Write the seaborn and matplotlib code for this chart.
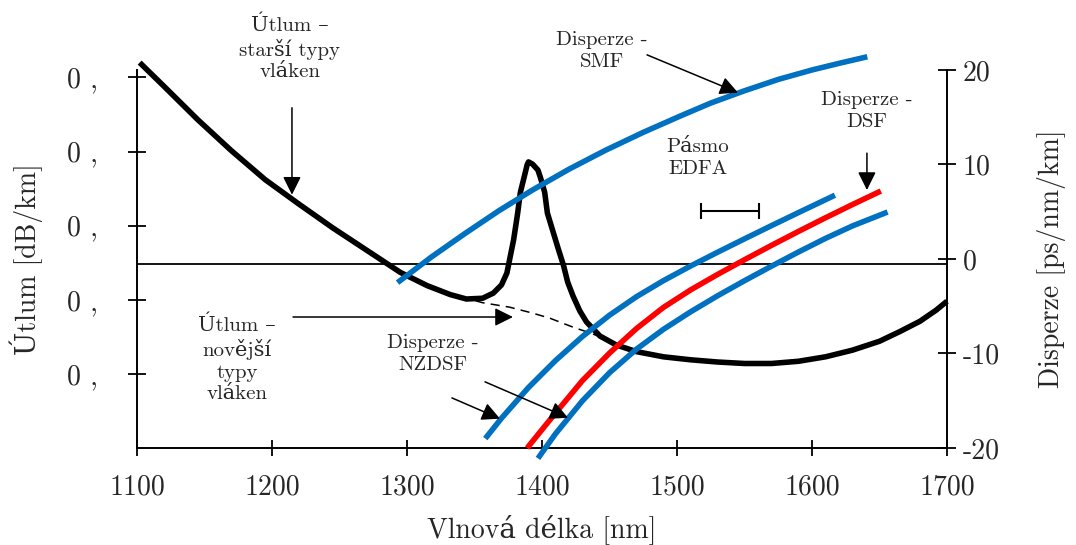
import matplotlib
matplotlib.use("Agg")
import matplotlib.pyplot as plt
import seaborn as sns

# Wavelength axis
x_ticks = [1100, 1200, 1300, 1400, 1500, 1600, 1700]
x_tick_labels = ["1100", "1200", "1300", "1400", "1500", "1600", "1700"]

# Left axis: attenuation [dB/km]
att_ticks = [0.1, 0.2, 0.3, 0.4, 0.5]
att_tick_labels = ["0 ,", "0 ,", "0 ,", "0 ,", "0 ,"]

# Right axis: dispersion [ps/nm/km]
disp_ticks = [-20, -10, 0, 10, 20]
disp_tick_labels = ["-20", "-10", "0", "10", "20"]

# Attenuation of older fibre types (with the OH absorption peak)
att_old_nm = [1102, 1120, 1145, 1170, 1195, 1220, 1245, 1270, 1295, 1315, 1332, 1344,
              1356, 1364, 1370, 1374, 1376, 1379, 1382, 1384, 1387, 1389, 1390, 1393,
              1397, 1399, 1402, 1404, 1408, 1412, 1416, 1419, 1423, 1428, 1433, 1443,
              1455, 1470, 1490, 1510, 1530, 1550, 1570, 1590, 1610, 1630, 1650, 1665,
              1680, 1692, 1700]
att_old_db = [0.520, 0.488, 0.443, 0.401, 0.362, 0.329, 0.297, 0.267, 0.237, 0.219, 0.207, 0.201,
              0.202, 0.209, 0.220, 0.236, 0.254, 0.281, 0.317, 0.345, 0.367, 0.382, 0.386, 0.383,
              0.375, 0.364, 0.345, 0.317, 0.293, 0.269, 0.246, 0.224, 0.205, 0.185, 0.170, 0.151,
              0.139, 0.130, 0.123, 0.119, 0.116, 0.114, 0.114, 0.117, 0.123, 0.132, 0.144, 0.157,
              0.171, 0.186, 0.198]

# Attenuation of newer fibre types (no OH peak)
att_new_nm = [1340, 1356, 1376, 1393, 1406, 1423, 1436, 1443]
att_new_db = [0.204, 0.196, 0.190, 0.182, 0.175, 0.163, 0.155, 0.150]

# Dispersion: standard single-mode fibre
smf_nm = [1293, 1318, 1343, 1368, 1393, 1420, 1447, 1475, 1502, 1525, 1550, 1575, 1600, 1620, 1641]
smf_disp = [-2.5, 0.2, 2.7, 5.1, 7.3, 9.5, 11.5, 13.4, 15.1, 16.5, 17.8, 19.0, 20.0, 20.7, 21.4]

# Dispersion: non-zero dispersion-shifted fibre (upper branch)
nzdsf_a_nm = [1358, 1370, 1390, 1410, 1430, 1450, 1470, 1490, 1510, 1530, 1550, 1570, 1590, 1617]
nzdsf_a_disp = [-19.0, -16.85, -13.6, -10.75, -8.2, -5.95, -3.99, -2.29, -0.75, 0.71, 2.13,
                3.53, 4.91, 6.75]

# Dispersion: dispersion-shifted fibre
dsf_nm = [1389, 1410, 1430, 1450, 1470, 1490, 1510, 1530, 1550, 1570, 1590, 1610, 1630, 1651]
dsf_disp = [-20.0, -16.3, -12.86, -9.96, -7.36, -5.12, -3.28, -1.64, -0.08, 1.44, 2.92, 4.36,
            5.76, 7.19]

# Dispersion: non-zero dispersion-shifted fibre (lower branch)
nzdsf_b_nm = [1397, 1410, 1430, 1450, 1470, 1490, 1510, 1530, 1550, 1570, 1590, 1610, 1630, 1656]
nzdsf_b_disp = [-21.1, -18.5, -15.0, -12.04, -9.54, -7.44, -5.6, -3.9, -2.3, -0.76, 0.74, 2.18,
                3.5, 4.97]

# Zero-dispersion reference line and EDFA band
zero_line = -0.5
edfa_band = [1518, 1561]
edfa_level = 5.1

BLUE = "#0070C0"
RED = "#FF0000"

sns.set_theme(style="white")
plt.rcParams["font.family"] = ["cmr10", "DejaVu Serif"]
plt.rcParams["axes.unicode_minus"] = False
plt.rcParams["axes.formatter.use_mathtext"] = True

fig = plt.figure(figsize=(10.76, 5.45), dpi=100)
ax = fig.add_axes([0.1273, 0.1780, 0.7528, 0.6936])
ax2 = ax.twinx()

# attenuation curves (left axis)
sns.lineplot(x=att_old_nm, y=att_old_db, ax=ax, sort=False, estimator=None,
             color="black", lw=4.0)
ax.lines[-1].set_clip_on(False)
ax.lines[-1].set_solid_capstyle("butt")
ax.lines[-1].set_solid_joinstyle("round")
sns.lineplot(x=att_new_nm, y=att_new_db, ax=ax, sort=False, estimator=None,
             color="black", lw=1.1, dashes=False)
ax.lines[-1].set_dashes([6, 4])

# dispersion curves (right axis)
ax2.axhline(zero_line, color="black", lw=1.3)
for xs, ys, col in [(smf_nm, smf_disp, BLUE), (nzdsf_a_nm, nzdsf_a_disp, BLUE),
                    (dsf_nm, dsf_disp, RED), (nzdsf_b_nm, nzdsf_b_disp, BLUE)]:
    sns.lineplot(x=xs, y=ys, ax=ax2, sort=False, estimator=None, color=col, lw=4.0)
    ax2.lines[-1].set_clip_on(False)
    ax2.lines[-1].set_solid_capstyle("butt")
    ax2.lines[-1].set_solid_joinstyle("round")

# EDFA band marker
mid = (edfa_band[0] + edfa_band[1]) / 2
half = (edfa_band[1] - edfa_band[0]) / 2
ax2.errorbar(mid, edfa_level, xerr=half, fmt="none", ecolor="black",
             elinewidth=1.5, capsize=6, capthick=1.5)

# axes limits and ticks
ax.set_xlim(1100, 1700)
ax.set_ylim(0, 0.51)
ax2.set_ylim(-20, 20)
ax.set_xticks(x_ticks)
ax.set_xticklabels(x_tick_labels)
ax.set_yticks(att_ticks)
ax.set_yticklabels(att_tick_labels)
ax2.set_yticks(disp_ticks)
ax2.set_yticklabels(disp_tick_labels)

for a in (ax, ax2):
    a.grid(False)
    a.spines["top"].set_visible(False)
    for s in ("left", "right", "bottom"):
        a.spines[s].set_linewidth(1.4)
        a.spines[s].set_color("black")
ax.spines["right"].set_visible(False)
ax2.spines["left"].set_visible(False)
ax2.spines["bottom"].set_visible(False)

ax.tick_params(axis="x", direction="inout", length=12, width=1.3, color="black",
               labelsize=20, pad=13, bottom=True)
ax.tick_params(axis="y", direction="inout", length=13, width=1.3, color="black",
               labelsize=20, pad=22, left=True)
ax2.tick_params(axis="y", direction="inout", length=13, width=1.3, color="black",
                labelsize=20, pad=5, right=True)

ax.set_xlabel("Vlnová délka [nm]", fontsize=20)
ax.xaxis.set_label_coords(0.5, -0.175)
ax.set_ylabel("Útlum [dB/km]", fontsize=20)
ax.yaxis.set_label_coords(-0.116, 0.5)
ax2.set_ylabel("Disperze [ps/nm/km]", fontsize=20)
ax2.yaxis.set_label_coords(1.111, 0.5)

arrow = dict(arrowstyle="-|>,head_length=0.5,head_width=0.25", color="black",
             lw=1.1, mutation_scale=22, shrinkA=0, shrinkB=0)
tkw = dict(fontsize=15, ha="center", va="center", linespacing=1.25, annotation_clip=False)

ax2.annotate("Útlum –\nstarší typy\nvláken", xy=(1213.3, 22.3), **tkw)
ax2.annotate("", xy=(1214.8, 6.8), xytext=(1214.8, 16.0), arrowprops=arrow,
             annotation_clip=False)

ax2.annotate("Disperze -\nSMF", xy=(1444.4, 22.0), **tkw)
ax2.annotate("", xy=(1545.2, 17.6), xytext=(1477.8, 21.6), arrowprops=arrow,
             annotation_clip=False)

ax2.annotate("Pásmo\nEDFA", xy=(1515.6, 10.7), **tkw)

ax2.annotate("Disperze -\nDSF", xy=(1640.7, 15.66), **tkw)
ax2.annotate("", xy=(1640.7, 7.3), xytext=(1640.7, 11.2), arrowprops=arrow,
             annotation_clip=False)

ax2.annotate("Útlum –\nnovější\ntypy\nvláken", xy=(1174.1, -10.63), **tkw)
ax2.annotate("", xy=(1378.5, -6.14), xytext=(1215.6, -6.14), arrowprops=arrow,
             annotation_clip=False)

ax2.annotate("Disperze -\nNZDSF", xy=(1319.3, -10.05), **tkw)
ax2.annotate("", xy=(1368.9, -16.9), xytext=(1333.3, -14.7), arrowprops=arrow,
             annotation_clip=False)
ax2.annotate("", xy=(1419.3, -16.8), xytext=(1357.8, -13.0), arrowprops=arrow,
             annotation_clip=False)

fig.savefig("out.png", dpi=100)
